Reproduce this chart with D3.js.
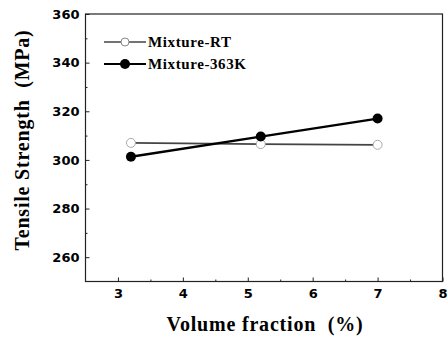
<!DOCTYPE html>
<html><head><meta charset="utf-8">
<script src="https://cdn.jsdelivr.net/npm/d3@7"></script>
<style>body{margin:0;background:#fff}</style>
</head><body>
<svg id="c" width="448" height="338"></svg>
<script>
const volume = [3.2, 5.2, 7];
const rtValues = [307, 306.5, 306.2];
const k363Values = [301.3, 309.6, 317];
const seriesNames = ["Mixture-RT", "Mixture-363K"];
const xTicks = [3, 4, 5, 6, 7, 8];
const yTicks = [260, 280, 300, 320, 340, 360];

const svg = d3.select("#c");
const x = d3.scaleLinear().domain([2.5, 8]).range([85.5, 442.5]);
const y = d3.scaleLinear().domain([250, 360]).range([281.5, 14]);

// frame
svg.append("rect").attr("x", x(2.5)).attr("y", y(360)).attr("width", x(8)-x(2.5)).attr("height", y(250)-y(360))
  .attr("fill", "none").attr("stroke", "#222").attr("stroke-width", 1.2);

// axes
const ax = svg.append("g").attr("transform", `translate(0,${y(250)})`)
  .call(d3.axisBottom(x).tickValues(xTicks).tickSize(-4).tickPadding(7).tickFormat(d3.format("d")));
const axm = svg.append("g").attr("transform", `translate(0,${y(250)})`)
  .call(d3.axisBottom(x).tickValues(d3.range(3.5, 8, 1)).tickSize(-2).tickFormat(""));
const ay = svg.append("g").attr("transform", `translate(${x(2.5)},0)`)
  .call(d3.axisLeft(y).tickValues(yTicks).tickSize(-4).tickPadding(6).tickFormat(d3.format("d")));
const aym = svg.append("g").attr("transform", `translate(${x(2.5)},0)`)
  .call(d3.axisLeft(y).tickValues(d3.range(270, 360, 20)).tickSize(-2).tickFormat(""));
[ax, axm, ay, aym].forEach(g => {
  g.select(".domain").remove();
  g.selectAll("line").attr("stroke", "#222");
  g.selectAll("text").attr("font-family", "DejaVu Sans, sans-serif")
    .attr("font-weight", "bold").attr("font-size", 13).attr("fill", "#000");
});

// titles
svg.append("text").attr("x", 265).attr("y", 331).attr("text-anchor", "middle")
  .attr("font-family", "Liberation Serif, Times New Roman, serif").attr("font-weight", "bold").attr("font-size", 20)
  .attr("letter-spacing", 0.8).style("white-space", "pre")
  .text("Volume fraction  (%)");
svg.append("text").attr("transform", "translate(29,140) rotate(-90)").attr("text-anchor", "middle")
  .attr("font-family", "Liberation Serif, Times New Roman, serif").attr("font-weight", "bold").attr("font-size", 20)
  .attr("letter-spacing", 0.8).style("white-space", "pre")
  .text("Tensile Strength  (MPa)");

const line = d3.line().x(d => x(d[0])).y(d => y(d[1]));
const rt = volume.map((v, i) => [v, rtValues[i]]);
const hk = volume.map((v, i) => [v, k363Values[i]]);

svg.append("path").datum(rt).attr("d", line).attr("fill", "none").attr("stroke", "#444").attr("stroke-width", 1.6);
svg.append("path").datum(hk).attr("d", line).attr("fill", "none").attr("stroke", "#000").attr("stroke-width", 2.4);
svg.selectAll(".rtp").data(rt).enter().append("circle").attr("cx", d => x(d[0])).attr("cy", d => y(d[1]))
  .attr("r", 4.5).attr("fill", "#fff").attr("stroke", "#aaa").attr("stroke-width", 1);
svg.selectAll(".hkp").data(hk).enter().append("circle").attr("cx", d => x(d[0])).attr("cy", d => y(d[1]))
  .attr("r", 5).attr("fill", "#000");

// legend
const leg = [{name: seriesNames[0], open: true, yy: 42}, {name: seriesNames[1], open: false, yy: 64}];
leg.forEach(l => {
  svg.append("line").attr("x1", 104).attr("x2", 146).attr("y1", l.yy).attr("y2", l.yy)
    .attr("stroke", l.open ? "#444" : "#000").attr("stroke-width", l.open ? 1.6 : 2.2);
  svg.append("circle").attr("cx", 125).attr("cy", l.yy).attr("r", l.open ? 4 : 5)
    .attr("fill", l.open ? "#fff" : "#000").attr("stroke", l.open ? "#888" : "none");
  svg.append("text").attr("x", 148).attr("y", l.yy + 5).attr("font-family", "Liberation Serif, Times New Roman, serif")
    .attr("font-weight", "bold").attr("font-size", 15).attr("letter-spacing", 0.6).text(l.name);
});
</script>
</body></html>
